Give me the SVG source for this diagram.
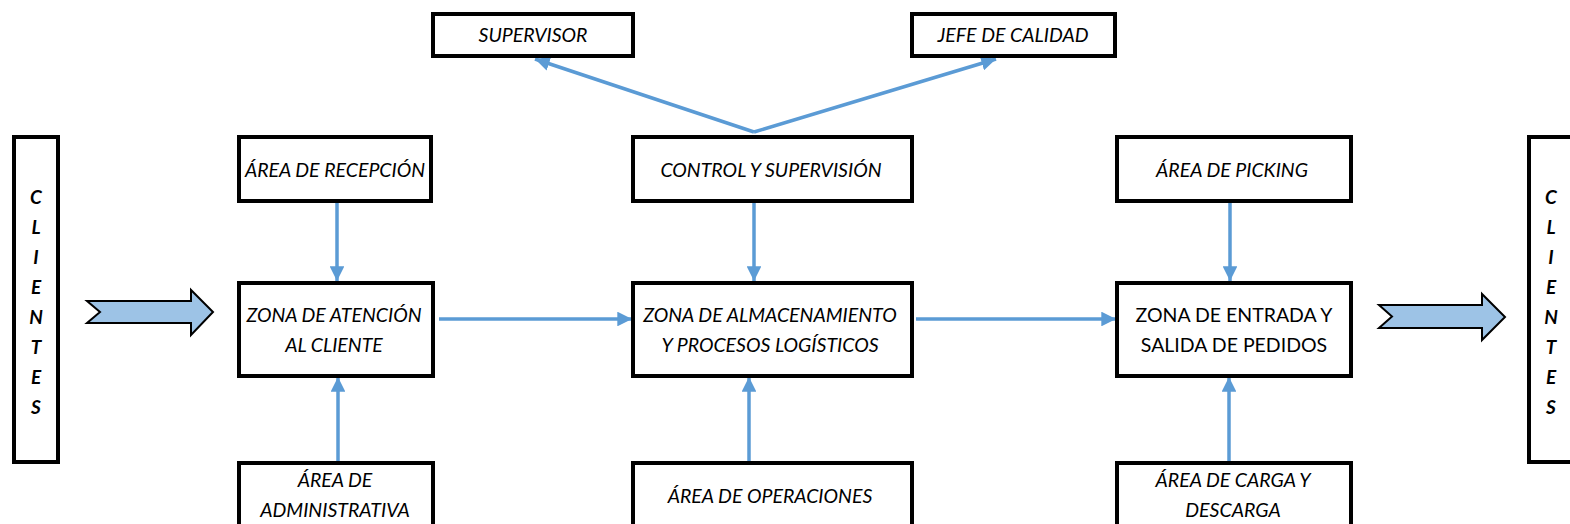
<svg xmlns="http://www.w3.org/2000/svg" width="1570" height="524" viewBox="0 0 1570 524">
<style>
.box{fill:#fff;stroke:#000;stroke-width:4}
.t{font-family:Lato,"Open Sans","Liberation Sans",sans-serif;font-size:19.5px;fill:#000;text-anchor:middle;font-style:italic}
.n{font-style:normal}
.cl{font-family:Lato,"Open Sans","Liberation Sans",sans-serif;font-size:19px;font-weight:bold;font-style:italic;text-anchor:middle}
.c{stroke:#5B9BD5;stroke-width:3.5;fill:none}
.blk{fill:#9DC3E6;stroke:#000;stroke-width:2}
</style>
<defs>
<marker id="ah" viewBox="0 0 10 10" refX="10" refY="5" markerWidth="4.2" markerHeight="4.2" markerUnits="strokeWidth" orient="auto">
<path d="M0,0 L10,5 L0,10 z" fill="#5B9BD5"/>
</marker>
</defs>
<rect width="1570" height="524" fill="#fff"/>

<g id="connectors">
<line class="c" x1="754" y1="132" x2="535" y2="59" marker-end="url(#ah)"/>
<line class="c" x1="754" y1="132" x2="996" y2="59" marker-end="url(#ah)"/>
<line class="c" x1="337" y1="202" x2="337" y2="281" marker-end="url(#ah)"/>
<line class="c" x1="754" y1="202" x2="754" y2="281" marker-end="url(#ah)"/>
<line class="c" x1="1230" y1="202" x2="1230" y2="281" marker-end="url(#ah)"/>
<line class="c" x1="338" y1="461" x2="338" y2="377" marker-end="url(#ah)"/>
<line class="c" x1="749" y1="461" x2="749" y2="377" marker-end="url(#ah)"/>
<line class="c" x1="1229" y1="461" x2="1229" y2="377" marker-end="url(#ah)"/>
<line class="c" x1="439" y1="319" x2="632" y2="319" marker-end="url(#ah)"/>
<line class="c" x1="916" y1="319" x2="1116" y2="319" marker-end="url(#ah)"/>
</g>

<g id="clientes-left">
<rect class="box" x="14" y="137" width="44" height="325"/>
<text class="cl" x="36" y="204">C</text>
<text class="cl" x="36" y="234">L</text>
<text class="cl" x="36" y="264">I</text>
<text class="cl" x="36" y="294">E</text>
<text class="cl" x="36" y="324">N</text>
<text class="cl" x="36" y="354">T</text>
<text class="cl" x="36" y="384">E</text>
<text class="cl" x="36" y="414">S</text>
</g>

<g id="arrow-in">
<path class="blk" d="M87,301 L191,301 L191,290 L213,312 L191,335 L191,323 L87,323 L100,312 Z"/>
</g>

<g id="arrow-out">
<path class="blk" d="M1379,305 L1482,305 L1482,294 L1505,317 L1482,340 L1482,328 L1379,328 L1392,316.5 Z"/>
</g>

<g id="clientes-right">
<rect class="box" x="1529" y="137" width="50" height="325"/>
<text class="cl" x="1551" y="204">C</text>
<text class="cl" x="1551" y="234">L</text>
<text class="cl" x="1551" y="264">I</text>
<text class="cl" x="1551" y="294">E</text>
<text class="cl" x="1551" y="324">N</text>
<text class="cl" x="1551" y="354">T</text>
<text class="cl" x="1551" y="384">E</text>
<text class="cl" x="1551" y="414">S</text>
</g>

<g id="supervisor">
<rect class="box" x="433" y="14" width="200" height="42"/>
<text class="t" x="533" y="42">SUPERVISOR</text>
</g>

<g id="jefe-calidad">
<rect class="box" x="912" y="14" width="203" height="42"/>
<text class="t" x="1013" y="42">JEFE DE CALIDAD</text>
</g>

<g id="area-recepcion">
<rect class="box" x="239" y="137" width="192" height="64"/>
<text class="t" x="335" y="177">ÁREA DE RECEPCIÓN</text>
</g>

<g id="control">
<rect class="box" x="633" y="137" width="279" height="64"/>
<text class="t" x="771" y="177">CONTROL Y SUPERVISIÓN</text>
</g>

<g id="area-picking">
<rect class="box" x="1117" y="137" width="234" height="64"/>
<text class="t" x="1232" y="177">ÁREA DE PICKING</text>
</g>

<g id="zona-atencion">
<rect class="box" x="239" y="283" width="194" height="93"/>
<text class="t" x="334" y="322">ZONA DE ATENCIÓN</text>
<text class="t" x="334" y="352">AL CLIENTE</text>
</g>

<g id="zona-almacenamiento">
<rect class="box" x="633" y="283" width="279" height="93"/>
<text class="t" x="770" y="322">ZONA DE ALMACENAMIENTO</text>
<text class="t" x="770" y="352">Y PROCESOS LOGÍSTICOS</text>
</g>

<g id="zona-entrada">
<rect class="box" x="1117" y="283" width="234" height="93"/>
<text class="t n" x="1234" y="322">ZONA DE ENTRADA Y</text>
<text class="t n" x="1234" y="352">SALIDA DE PEDIDOS</text>
</g>

<g id="area-administrativa">
<rect class="box" x="239" y="463" width="194" height="80"/>
<text class="t" x="335" y="487">ÁREA DE</text>
<text class="t" x="335" y="517">ADMINISTRATIVA</text>
</g>

<g id="area-operaciones">
<rect class="box" x="633" y="463" width="279" height="80"/>
<text class="t" x="770" y="503">ÁREA DE OPERACIONES</text>
</g>

<g id="area-carga">
<rect class="box" x="1117" y="463" width="234" height="80"/>
<text class="t" x="1233" y="487">ÁREA DE CARGA Y</text>
<text class="t" x="1233" y="517">DESCARGA</text>
</g>
</svg>
